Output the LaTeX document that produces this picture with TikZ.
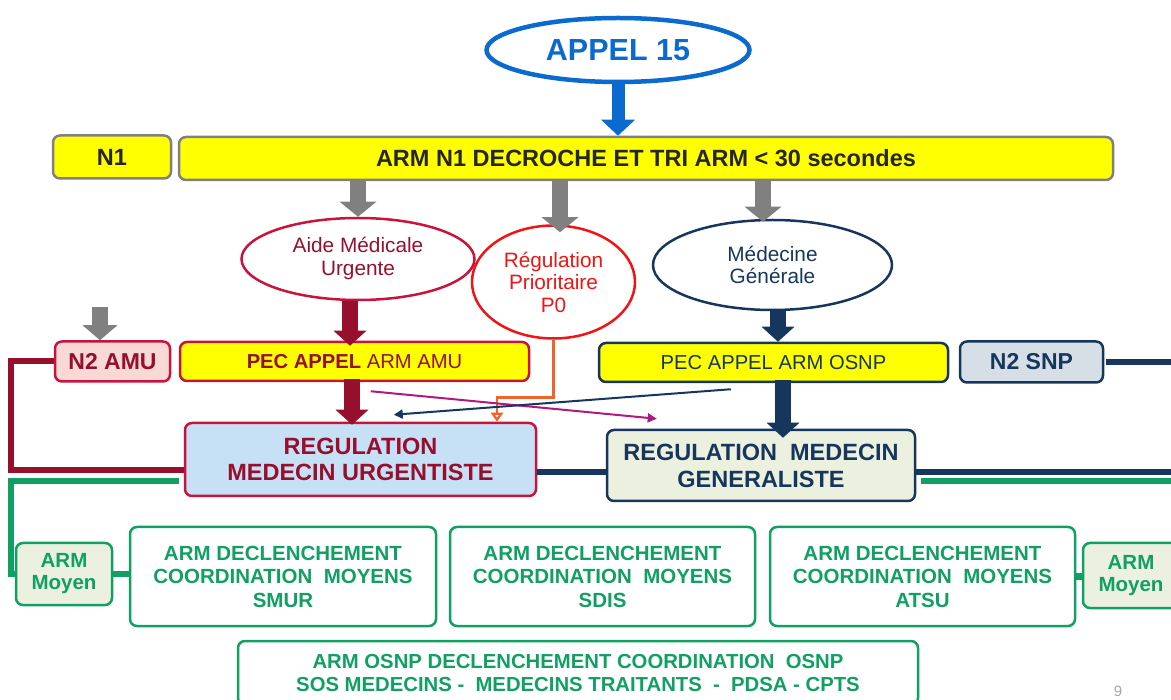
\documentclass[tikz,border=0pt]{standalone}
\usepackage{fontspec}
\setmainfont{Liberation Sans}
\usetikzlibrary{arrows.meta,shapes.geometric,calc}
\definecolor{cblue}{RGB}{10,106,207}
\definecolor{cgrey}{RGB}{128,128,128}
\definecolor{ccrim}{RGB}{200,20,60}
\definecolor{cdred}{RGB}{150,15,45}
\definecolor{cnavy}{RGB}{23,54,93}
\definecolor{cgreen}{RGB}{16,160,100}
\definecolor{cred}{RGB}{240,20,20}
\definecolor{corange}{RGB}{240,100,40}
\definecolor{cmag}{RGB}{176,25,126}
\definecolor{ctext}{RGB}{38,38,38}
\definecolor{fblue}{RGB}{198,224,245}
\definecolor{fgreen}{RGB}{235,241,222}
\definecolor{fpink}{RGB}{249,217,213}
\definecolor{fgreyb}{RGB}{214,223,230}
\definecolor{cyel}{RGB}{255,255,0}
\newcommand\fsz[2]{\fontsize{#1}{#2}\selectfont}
\begin{document}
\begin{tikzpicture}[x=1pt,y=-1pt,
  box/.style={rectangle, rounded corners=7pt, line width=2.5pt, inner sep=0pt, align=center},
  yelbox/.style={box, fill=cyel},
  ell/.style={ellipse, inner sep=0pt, align=center, line width=2.5pt},
  gbox/.style={box, draw=cgreen, fill=white, text=cgreen, font=\bfseries\fsz{20.5}{23.5}},
  blk/.style n args={3}{line width=#1, -{Triangle[width=#2,length=#3]}},
  thin/.style={line width=2pt, -{Triangle[width=9,length=9]}},
  bar/.style={line width=6pt}
]
\useasboundingbox (0,0) rectangle (1171,700);
\coordinate (rEdge) at (1171,0);

% top
\node[ell, draw=cblue, line width=4.5pt, minimum width=263, minimum height=64, text=cblue, font=\bfseries\fsz{30.5}{32}] (appel) at (618,50) {APPEL 15};
\node[yelbox, draw=cgrey, text=ctext, minimum width=118, minimum height=43, font=\bfseries\fsz{23.5}{25}] (n1) at (112,157) {N1};
\node[yelbox, draw=cgrey, text=ctext, minimum width=934, minimum height=43, font=\bfseries\fsz{23.5}{25}] (arm) at (646,158.5) {ARM N1 DECROCHE ET TRI ARM < 30 secondes};

% ellipses
\node[ell, draw=ccrim, text=cdred, minimum width=233, minimum height=82, font=\fsz{20.8}{23}] (aide) at (358,259) {Aide Médicale\\Urgente};
\node[ell, draw=cred, text=cred, minimum width=163, minimum height=113, font=\fsz{20.8}{22.5}] (p0) at (553.5,282) {Régulation\\Prioritaire\\P0};
\node[ell, draw=cnavy, text=cnavy, minimum width=239, minimum height=90, font=\fsz{20.8}{22.5}] (mg) at (772.5,265) {Médecine\\Générale};

% level 2
\node[box, draw=ccrim, fill=fpink, text=cdred, minimum width=115, minimum height=40, font=\bfseries\fsz{23}{25}] (n2amu) at (112.5,361.5) {N2 AMU};
\node[yelbox, draw=ccrim, text=cdred, minimum width=349, minimum height=39, font=\fsz{20.2}{22}] (pecamu) at (354.5,361.5) {\textbf{PEC APPEL} ARM AMU};
\node[yelbox, draw=cnavy, text=cnavy, minimum width=349, minimum height=39, font=\fsz{20.2}{22}] (pecosnp) at (773.5,362.5) {PEC APPEL ARM OSNP};
\node[box, draw=cnavy, fill=fgreyb, text=cnavy, minimum width=143, minimum height=41, font=\bfseries\fsz{23}{25}] (n2snp) at (1031.5,362) {N2 SNP};

% regulation
\node[box, draw=ccrim, fill=fblue, text=cdred, minimum width=351, minimum height=73, font=\bfseries\fsz{23.5}{26}] (regmu) at (360.5,459.5) {REGULATION\\MEDECIN URGENTISTE};
\node[box, draw=cnavy, fill=fgreen, text=cnavy, minimum width=308, minimum height=71, font=\bfseries\fsz{23.5}{27}] (regmg) at (761,465.5) {REGULATION\ \ MEDECIN\\GENERALISTE};

% moyens
\node[gbox, fill=fgreen, minimum width=96, minimum height=62, font=\bfseries\fsz{20.5}{22}] (moyL) at (64,574) {ARM\\Moyen};
\node[gbox, minimum width=306, minimum height=99] (smur) at (283,576.5) {ARM DECLENCHEMENT\\COORDINATION\ \ MOYENS\\SMUR};
\node[gbox, minimum width=305, minimum height=99] (sdis) at (602.5,576.5) {ARM DECLENCHEMENT\\COORDINATION\ \ MOYENS\\SDIS};
\node[gbox, minimum width=305, minimum height=99] (atsu) at (922.5,576.5) {ARM DECLENCHEMENT\\COORDINATION\ \ MOYENS\\ATSU};
\node[gbox, fill=fgreen, minimum width=96, minimum height=65, font=\bfseries\fsz{20.5}{22}] (moyR) at (1131,575.5) {ARM\\Moyen};
\node[gbox, minimum width=680, minimum height=64, font=\bfseries\fsz{20.3}{23}] (osnp) at (578,673) {ARM OSNP DECLENCHEMENT COORDINATION\ \ OSNP\\SOS MEDECINS -\ \ MEDECINS TRAITANTS\ \ -\ \ PDSA - CPTS};
\node[text=cgrey!70, font=\fsz{15}{15}] (pg) at (1118,691) {9};

% block arrows
\draw[cblue, blk={13}{33}{16}] (appel.south) -- (appel.south |- arm.north);
\draw[cgrey, blk={16}{36}{15}] (aide.north |- arm.south) -- (aide.north);
\draw[cgrey, blk={16}{36}{15}] ([xshift=6.5]p0.north |- arm.south) -- ([xshift=6.5,yshift=-8]p0.north);
\draw[cgrey, blk={16}{36}{15}] ([xshift=-9.5]mg.north |- arm.south) -- ([xshift=-9.5,yshift=-3]mg.north);
\coordinate (g0) at (100,307);
\draw[cgrey, blk={16}{34}{15}] (g0) -- (g0 |- n2amu.north);
\draw[cdred, blk={16}{32}{15}] ([xshift=-8]aide.south) -- ([xshift=-8,yshift=-5]aide.south |- pecamu.north);
\draw[cnavy, blk={16}{32}{15}] ([xshift=5.5]mg.south) -- ([xshift=5.5]mg.south |- pecosnp.north);
\draw[cdred, blk={16}{32}{15}] ([xshift=-2.5,yshift=3]pecamu.south) -- ([xshift=-2.5,yshift=-3]pecamu.south |- regmu.north);
\draw[cnavy, blk={16}{32}{15}] ([xshift=9.5,yshift=3]pecosnp.south) -- ([xshift=9.5,yshift=-9]pecosnp.south |- regmg.north);

% orange
\coordinate (o1) at ($(regmu.north)+(136.5,-24)$);
\draw[corange, line width=2.5pt, -{Triangle[open,width=12,length=9]}] (p0.south) |- (o1) -- (o1 |- regmu.north);
% cross arrows
\draw[cmag, thin] ($(pecamu.south west)+(192,9)$) -- ($(regmg.north west)+(51,-10)$);
\draw[cnavy, thin] ($(pecosnp.south west)+(133,6)$) -- ($(regmu.north west)+(210,-7)$);

% bars
\draw[cdred, bar] (n2amu.west) -- ++(-43,0) |- ($(regmu.west)+(0,10.5)$);
\draw[cgreen, bar] ($(regmu.west)+(-5,22)$) -- ++(-168,0) |- (moyL.west);
\path ($(regmu.east)+(0,13)$) coordinate (m1);
\draw[cnavy, bar] (m1) -- (m1 -| regmg.west);
\path ($(regmg.east)+(0,6.5)$) coordinate (m2);
\draw[cnavy, bar] (m2) -- (m2 -| rEdge);
\path ($(regmg.east)+(5,15.5)$) coordinate (m3);
\draw[cgreen, bar] (m3) -- (m3 -| rEdge);
\draw[cnavy, bar] ([xshift=2]n2snp.east) -- (n2snp.east -| rEdge);
\draw[cgreen, bar] (moyL.east) -- (moyL.east -| smur.west);
\draw[cgreen, bar] (atsu.east) -- (atsu.east -| moyR.west);
\end{tikzpicture}
\end{document}
